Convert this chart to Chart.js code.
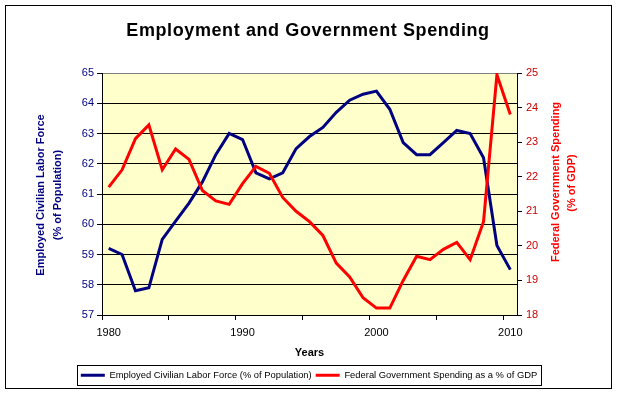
<!DOCTYPE html>
<html>
<head>
<meta charset="utf-8">
<script src="https://cdn.jsdelivr.net/npm/chart.js@4.4.0/dist/chart.umd.min.js"></script>
<style>
  html, body { margin: 0; padding: 0; background: #fff; }
  canvas { display: block; }
</style>
</head>
<body>
<canvas id="chart" width="618" height="393"></canvas>
<script>
// Chart data
const years = ['1980', '1981', '1982', '1983', '1984', '1985', '1986', '1987', '1988', '1989',
    '1990', '1991', '1992', '1993', '1994', '1995', '1996', '1997', '1998', '1999',
    '2000', '2001', '2002', '2003', '2004', '2005', '2006', '2007', '2008', '2009', '2010'];
const employment = [59.2, 59.0, 57.8, 57.9, 59.5, 60.1, 60.7, 61.4, 62.3, 63.0,
    62.8, 61.7, 61.5, 61.7, 62.5, 62.9, 63.2, 63.7, 64.1, 64.3,
    64.4, 63.8, 62.7, 62.3, 62.3, 62.7, 63.1, 63.0, 62.2, 59.3, 58.5];
const spending = [21.7, 22.2, 23.1, 23.5, 22.2, 22.8, 22.5, 21.6, 21.3, 21.2,
    21.8, 22.3, 22.1, 21.4, 21.0, 20.7, 20.3, 19.5, 19.1, 18.5,
    18.2, 18.2, 19.0, 19.7, 19.6, 19.9, 20.1, 19.6, 20.7, 24.95, 23.8];
const xTickLabels = ['1980', '1990', '2000', '2010'];

const chartTitle = 'Employment and Government Spending';
const leftTitle = ['Employed Civilian Labor Force', '(% of Population)'];
const rightTitle = ['Federal Government Spending', '(% of GDP)'];

const navy = '#000080';
const red = '#FF0000';

Chart.defaults.font.family = 'Arial, "Liberation Sans", sans-serif';
Chart.defaults.color = '#000';

function verticalText(ctx, text, x, y, color) {
    ctx.save();
    ctx.translate(x, y);
    ctx.rotate(-Math.PI / 2);
    ctx.fillStyle = color;
    ctx.fillText(text, 0, 0);
    ctx.restore();
}

// Plot background, frames and titles
const decor = {
    id: 'decor',
    beforeDraw(chart) {
        const { ctx, chartArea: a } = chart;
        ctx.save();
        ctx.fillStyle = '#fff';
        ctx.fillRect(0, 0, chart.width, chart.height);
        ctx.fillStyle = '#FFFFCC';
        ctx.fillRect(a.left, a.top, a.right - a.left, a.bottom - a.top);
        ctx.restore();
    },
    afterDraw(chart) {
        const ctx = chart.ctx;
        ctx.save();
        ctx.strokeStyle = '#000';
        ctx.lineWidth = 1;
        ctx.strokeRect(5.5, 5.5, 606, 383);

        // box around the legend
        const hb = chart.legend.legendHitBoxes;
        if (hb && hb.length) {
            const last = hb[hb.length - 1];
            const left = Math.round(hb[0].left) - 3.5;
            const right = Math.round(last.left + last.width) + 4.5;
            const top = Math.round(hb[0].top) - 5.5;
            ctx.strokeRect(left, top, right - left, 20);
        }

        ctx.textAlign = 'center';
        ctx.textBaseline = 'middle';
        ctx.fillStyle = '#000';
        ctx.font = 'bold 18px Arial, "Liberation Sans", sans-serif';
        ctx.letterSpacing = '0.6px';
        ctx.fillText(chartTitle, 308, 31);
        ctx.letterSpacing = '0px';

        ctx.font = 'bold 11px Arial, "Liberation Sans", sans-serif';
        verticalText(ctx, leftTitle[0], 41, 195, navy);
        verticalText(ctx, leftTitle[1], 58, 195, navy);
        verticalText(ctx, rightTitle[0], 556, 182, red);
        verticalText(ctx, rightTitle[1], 572, 183, red);
        ctx.restore();
    }
};

new Chart(document.getElementById('chart'), {
    type: 'line',
    data: {
        labels: years,
        datasets: [{
            label: 'Employed Civilian Labor Force (% of Population)',
            data: employment,
            yAxisID: 'y',
            borderColor: navy,
            backgroundColor: navy,
            borderWidth: 3,
            pointRadius: 0,
            tension: 0,
            order: 2
        }, {
            label: 'Federal Government Spending as a % of GDP',
            data: spending,
            yAxisID: 'y1',
            borderColor: red,
            backgroundColor: red,
            borderWidth: 3,
            pointRadius: 0,
            tension: 0,
            order: 1
        }]
    },
    options: {
        responsive: false,
        animation: false,
        layout: { padding: { top: 73, left: 0, right: 0, bottom: 3 } },
        plugins: {
            title: { display: false },
            tooltip: { enabled: false },
            legend: {
                position: 'bottom',
                labels: {
                    usePointStyle: true,
                    pointStyle: 'line',
                    pointStyleWidth: 24,
                    padding: 4,
                    color: '#000',
                    font: { size: 9.4 },
                    sort: (a, b) => a.datasetIndex - b.datasetIndex
                }
            }
        },
        scales: {
            x: {
                type: 'category',
                offset: true,
                grid: {
                    offset: true,
                    drawOnChartArea: false,
                    tickLength: 5,
                    color: '#000',
                    tickColor: c => (c.index % 5 === 0 ? '#000' : 'rgba(0,0,0,0)')
                },
                border: { color: '#000', width: 1 },
                ticks: {
                    autoSkip: false,
                    maxRotation: 0,
                    padding: 6,
                    color: '#000',
                    font: { size: 11 },
                    callback(value) {
                        const label = this.getLabelForValue(value);
                        return xTickLabels.includes(label) ? label : '';
                    }
                },
                title: {
                    display: true,
                    text: 'Years',
                    color: '#000',
                    font: { size: 11, weight: 'bold' },
                    padding: { top: 0, bottom: 7 }
                },
                afterFit(s) { s.height = s.chart.height - 315 - 3 - s.chart.legend.height; }
            },
            y: {
                position: 'left',
                min: 57,
                max: 65,
                ticks: { stepSize: 1, padding: 3, color: navy, font: { size: 11 } },
                grid: {
                    color: c => (c.tick && c.tick.value === 65 ? '#808080' : '#000'),
                    tickColor: '#000',
                    tickLength: 5
                },
                border: { color: '#000' },
                afterFit(s) { s.width = 102; }
            },
            y1: {
                position: 'right',
                min: 18,
                max: 25,
                ticks: { stepSize: 1, padding: 4, color: '#CC0000', font: { size: 11 } },
                grid: { drawOnChartArea: false, tickLength: 5, color: '#000' },
                border: { color: '#000' },
                afterFit(s) { s.width = 101; }
            }
        }
    },
    plugins: [decor]
});
</script>
</body>
</html>
